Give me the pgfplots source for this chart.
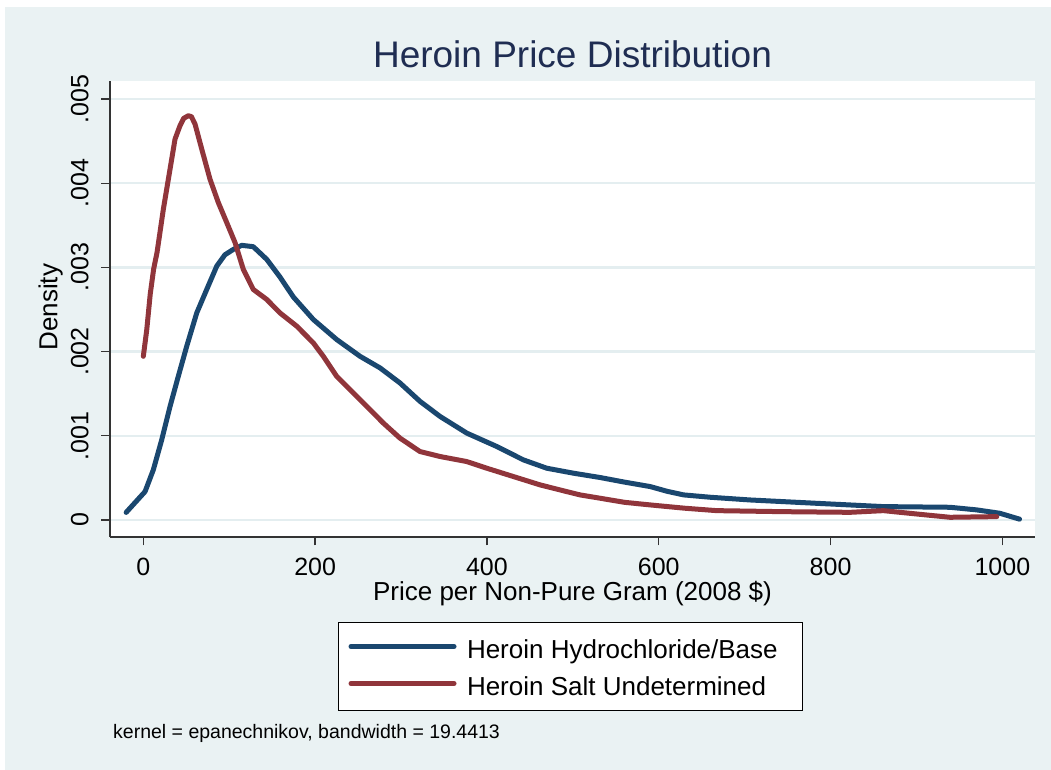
\documentclass[border=0pt]{standalone}
\usepackage{fontspec}
\setmainfont{Liberation Sans}
\usepackage{pgfplots}
\usepackage{pgfplotstable}
\pgfplotsset{compat=1.18}

\definecolor{bgc}{HTML}{EAF2F3}
\definecolor{gridc}{HTML}{E4EEF0}
\definecolor{axc}{HTML}{333333}
\definecolor{hcl}{HTML}{1A476F}
\definecolor{salt}{HTML}{90353B}
\definecolor{titlec}{HTML}{1F2D52}

% Kernel density estimates (price per non-pure gram, density)
\pgfplotstableread{
x y
-20 0.00009
2 0.000337
11.6 0.000595
21.4 0.000952
31.1 0.001349
40.7 0.001706
50.5 0.002063
62.2 0.00246
73.8 0.002738
85.5 0.003016
95 0.00315
104.8 0.003214
114.6 0.003262
128 0.003246
143.7 0.003095
159 0.002887
174.6 0.002649
197.9 0.002381
225.1 0.002143
252.3 0.001944
275.6 0.001806
298.8 0.001627
322.1 0.001409
345.4 0.00123
376.5 0.001032
411.4 0.000873
442.4 0.000714
469.6 0.000615
500.6 0.000556
532 0.000504
560 0.00045
590 0.000397
610 0.00034
629 0.000298
660 0.00027
706 0.000238
784 0.000198
861.5 0.000159
939 0.000151
970 0.00012
997 0.00008
1020 0.00001
}\hcltable

\pgfplotstableread{
x y
0 0.001944
4 0.00226
8 0.00268
12 0.00298
16 0.00318
23.3 0.00369
31.1 0.004167
36.9 0.004524
42.7 0.004683
47 0.00477
52.4 0.004802
56 0.00479
60.2 0.004702
68 0.004405
77.6 0.004048
87.3 0.00377
97.1 0.003532
106.8 0.003294
116.4 0.002976
128 0.002738
143.7 0.002619
159 0.00246
178.6 0.002302
197.9 0.002103
209.5 0.001944
225.1 0.001706
244.5 0.001508
263.9 0.00131
279.4 0.001151
298.8 0.000972
322.1 0.000813
345.4 0.000754
376.5 0.000694
399.8 0.000615
430.8 0.000516
461.8 0.000417
492.9 0.000337
508.4 0.000298
532 0.000258
560 0.00021
590 0.000179
630 0.00014
667.5 0.000111
745 0.0000988
822.7 0.000091
861.5 0.000111
900 0.0000714
939 0.000032
993.5 0.00004
}\salttable

\begin{document}
\begin{tikzpicture}[x=1pt,y=1pt]
\fill[white] (0,0) rectangle (1051,770);
\fill[bgc] (5,0) rectangle (1051,763);
\begin{axis}[
  at={(110pt,233pt)}, anchor=south west,
  scale only axis, width=925pt, height=456pt,
  xmin=-38.8, xmax=1038, ymin=-0.000202, ymax=0.005214,
  axis background/.style={fill=white},
  axis x line*=bottom, axis y line*=left,
  axis line style={draw=axc, line width=1.3pt, -},
  xtick={0,200,400,600,800,1000},
  xticklabels={0,200,400,600,800,1000},
  ytick={0,0.001,0.002,0.003,0.004,0.005},
  yticklabels={0,.001,.002,.003,.004,.005},
  scaled y ticks=false, scaled x ticks=false,
  tick align=outside, major tick length=8.5pt,
  tick style={draw=axc, line width=1.3pt},
  ymajorgrids, major grid style={draw=gridc, line width=2.5pt},
  xticklabel style={font=\fontsize{25}{30}\selectfont, anchor=base, yshift=-30pt},
  yticklabel style={font=\fontsize{25}{30}\selectfont, rotate=90, anchor=base, yshift=13pt},
  title={Heroin Price Distribution},
  title style={font=\fontsize{37}{44}\selectfont, text=titlec, at={(0.5,1.016)}, anchor=base},
  xlabel={Price per Non-Pure Gram (2008 \$)},
  xlabel style={font=\fontsize{26}{31}\selectfont, at={(0.5,-0.1397)}, anchor=base},
  ylabel={Density},
  ylabel style={font=\fontsize{26}{31}\selectfont, at={(-0.057,0.504)}, anchor=base},
  legend style={at={(0.2465,-0.1864)}, anchor=north west, draw=black, line width=1pt,
    fill=white, font=\fontsize{26}{31}\selectfont, inner xsep=10pt, inner ysep=10pt,
    row sep=6pt,
    nodes={inner sep=0pt, text height=19pt, text depth=5pt}},
  legend cell align=left,
  legend image code/.code={%
    \path[draw=none, fill=none] (0pt,-5pt) rectangle (116pt,19pt);
    \draw[#1, line width=5pt, line cap=round] (0pt,5pt) -- (103pt,5pt);},
  every axis plot/.append style={line width=5pt, line join=round, line cap=round},
]
\addplot[hcl, no marks] table {\hcltable};
\addlegendentry{\makebox[325pt][l]{Heroin Hydrochloride/Base}}
\addplot[salt, no marks] table {\salttable};
\addlegendentry{\makebox[325pt][l]{Heroin Salt Undetermined}}
\end{axis}
\node[anchor=base west, font=\fontsize{19.5}{23}\selectfont, inner sep=0pt] at (113,31) {kernel = epanechnikov, bandwidth = 19.4413};
\useasboundingbox (0,0) rectangle (1051,770);
\end{tikzpicture}
\end{document}
